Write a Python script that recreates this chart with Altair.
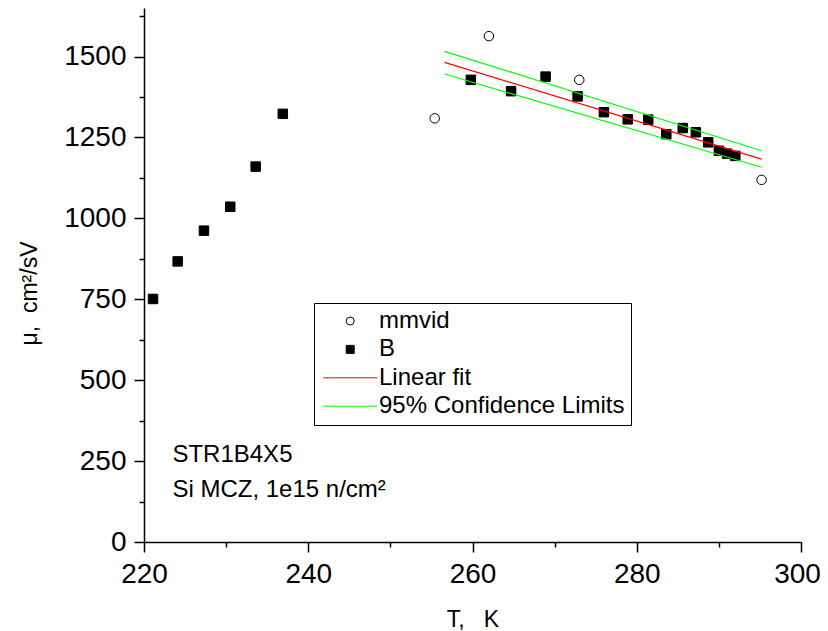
import altair as alt
import pandas as pd

# ---- data ----
b_T = [221.1, 224.1, 227.3, 230.5, 233.6, 236.9, 259.8, 264.7, 268.9, 272.8,
       276.0, 278.9, 281.4, 283.6, 285.6, 287.2, 288.7, 290.0, 291.0, 292.0]
b_mu = [751, 867, 962, 1036, 1160, 1323, 1428, 1393, 1438, 1377,
        1328, 1306, 1305, 1260, 1279, 1266, 1235, 1209, 1200, 1193]
mm_T = [255.4, 262.0, 273.0, 295.2]
mm_mu = [1309, 1563, 1428, 1119]
fit_T = [256.6, 295.2]
fit_mu = [1482, 1183]
upper_mu = [1516, 1209]
lower_mu = [1446, 1158]

series_names = ["mmvid", "B", "Linear fit", "95% Confidence Limits"]
ann_T = [223.46, 223.46]
ann_mu = [247, 139]
ann_text = ["STR1B4X5", "Si MCZ, 1e15 n/cm²"]

x_ticks = list(range(220, 301, 10))
y_ticks = list(range(0, 1651, 125))

NB = "\u00a0"
x_title = "T," + NB + NB + NB + "K"
y_title = "μ," + NB + NB + "cm²/sV"

# ---- tables ----
pts = pd.DataFrame(
    {"T": mm_T + b_T, "mu": mm_mu + b_mu,
     "series": ["mmvid"] * len(mm_T) + ["B"] * len(b_T)}
)
lines = pd.DataFrame(
    {"T": fit_T * 3, "mu": fit_mu + upper_mu + lower_mu,
     "series": ["Linear fit"] * 2 + ["95% Confidence Limits"] * 4,
     "band": ["fit"] * 2 + ["upper"] * 2 + ["lower"] * 2}
)
ann = pd.DataFrame({"T": ann_T, "mu": ann_mu, "text": ann_text})

FONT = "Liberation Sans"
LINE_PATH = "M-6.75,0H6.75"

shape_scale = alt.Scale(domain=series_names, range=["circle", "square", LINE_PATH, LINE_PATH])
stroke_scale = alt.Scale(domain=series_names, range=["black", "black", "#ff0000", "#00ff00"])
fill_scale = alt.Scale(domain=series_names, range=["white", "black", "transparent", "transparent"])

x_enc = alt.X(
    "T:Q",
    scale=alt.Scale(domain=[220, 300], nice=False, zero=False),
    axis=alt.Axis(
        values=x_ticks, format="d",
        labelExpr="datum.value % 20 === 0 ? datum.label : ''",
        tickSize={"condition": {"test": "datum.value % 20 === 0", "value": 10}, "value": 5},
        labelOffset={"condition": {"test": "datum.value === 300", "value": -4}, "value": 0},
        labelFontSize=28, labelPadding=8, labelFlush=False, labelOverlap=False,
        title=x_title, titleFontSize=23, titleFontWeight="normal",
        titleBaseline="alphabetic", titleY=84,
    ),
)
y_enc = alt.Y(
    "mu:Q",
    scale=alt.Scale(domain=[0, 1650], nice=False),
    axis=alt.Axis(
        values=y_ticks, format="d",
        labelExpr="datum.value % 250 === 0 ? datum.label : ''",
        tickSize={"condition": {"test": "datum.value % 250 === 0", "value": 10}, "value": 5},
        labelFontSize=28, labelPadding=8, labelFlush=False, labelOverlap=False,
        title=y_title, titleFontSize=23, titleFontWeight="normal",
        titleBaseline="alphabetic", titleAngle=270, titleX=-107.6, titleY=285,
    ),
)

points = alt.Chart(pts).mark_point(size=90, strokeWidth=1, opacity=1).encode(
    x=x_enc, y=y_enc,
    shape=alt.Shape("series:N", scale=shape_scale, title=None),
    stroke=alt.Stroke("series:N", scale=stroke_scale, title=None),
    fill=alt.Fill("series:N", scale=fill_scale, title=None),
)

fitlines = alt.Chart(lines).mark_line(strokeWidth=1.2).encode(
    x=alt.X("T:Q"), y=alt.Y("mu:Q"),
    stroke=alt.Stroke("series:N", scale=stroke_scale, title=None),
    detail="band:N",
)

texts = alt.Chart(ann).mark_text(
    align="left", baseline="alphabetic", fontSize=24, font=FONT, color="black"
).encode(x=alt.X("T:Q"), y=alt.Y("mu:Q"), text="text:N")

chart = (
    alt.layer(points, fitlines, texts)
    .properties(
        width=657, height=534,
        autosize=alt.AutoSizeParams(type="none"),
        padding={"left": 136, "top": 0, "right": 19, "bottom": 89},
    )
    .configure(font=FONT)
    .configure_view(stroke=None)
    .configure_axis(
        grid=False, domainColor="black", tickColor="black", domainWidth=1.5,
        tickWidth=1.5, labelColor="black", titleColor="black",
        labelFont=FONT, titleFont=FONT,
    )
    .configure_legend(
        orient="none", legendX=170, legendY=295, padding=6, rowPadding=4.4,
        symbolSize=64, symbolStrokeWidth=1, symbolOffset=18.2, labelOffset=16.8,
        labelFontSize=24, labelFont=FONT, labelColor="black", labelLimit=400,
        strokeColor="black", fillColor="white", symbolOpacity=1,
    )
)

chart.save("out.html", embed_options={"renderer": "svg", "actions": False})
